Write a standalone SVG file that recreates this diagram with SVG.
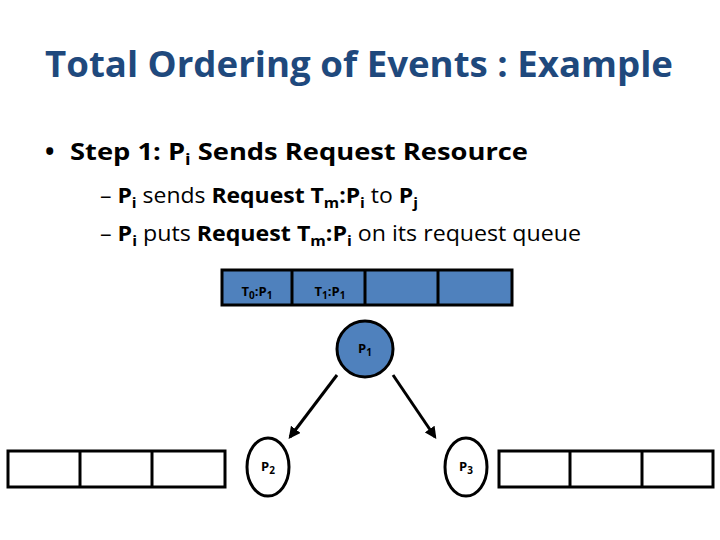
<svg xmlns="http://www.w3.org/2000/svg" width="720" height="540" viewBox="0 0 720 540">
<style>
.t{font-family:"Open Sans","Liberation Sans",sans-serif}
.q{stroke:#000;stroke-width:3}
.bq{fill:#4F81BD}
.wq{fill:#fff}
.lbl{font-family:"Open Sans","Liberation Sans",sans-serif;font-size:13px;font-weight:bold;fill:#000}
.e{stroke:#000;stroke-width:3;fill:none}
</style>
<defs><marker id="a" viewBox="0 0 10 10" refX="8" refY="5" markerWidth="4" markerHeight="4" orient="auto"><path d="M0,0L10,5L0,10z" fill="#000"/></marker></defs>
<rect width="720" height="540" fill="#fff"/>
<text class="t" x="45" y="77" font-size="36" font-weight="bold" fill="#1F497D" textLength="628" lengthAdjust="spacingAndGlyphs">Total Ordering of Events : Example</text>
<text class="t" x="45" y="160" font-size="25" font-weight="bold" fill="#000">•</text>
<text class="t" x="70" y="160" font-size="24" font-weight="bold" fill="#000" textLength="458" lengthAdjust="spacingAndGlyphs">Step 1:  P<tspan font-size="16" dy="5">i</tspan><tspan dy="-5"> Sends Request Resource</tspan></text>
<text class="t" x="100" y="203" font-size="22" fill="#000" textLength="318" lengthAdjust="spacingAndGlyphs">– <tspan font-weight="bold">P<tspan font-size="15" dy="5">i</tspan></tspan><tspan dy="-5"> sends </tspan><tspan font-weight="bold">Request T<tspan font-size="15" dy="5">m</tspan><tspan dy="-5">:P</tspan><tspan font-size="15" dy="5">i</tspan></tspan><tspan dy="-5"> to </tspan><tspan font-weight="bold">P<tspan font-size="15" dy="5">j</tspan></tspan></text>
<text class="t" x="100" y="241" font-size="22" fill="#000" textLength="481" lengthAdjust="spacingAndGlyphs">– <tspan font-weight="bold">P<tspan font-size="15" dy="5">i</tspan></tspan><tspan dy="-5"> puts </tspan><tspan font-weight="bold">Request T<tspan font-size="15" dy="5">m</tspan><tspan dy="-5">:P</tspan><tspan font-size="15" dy="5">i</tspan></tspan><tspan dy="-5"> on its request queue</tspan></text>
<g id="connectors">
<line class="e" x1="337" y1="375" x2="290" y2="437" marker-end="url(#a)"/>
<line class="e" x1="393" y1="375" x2="435" y2="437" marker-end="url(#a)"/>
</g>
<g id="queue-top">
<rect class="q bq" x="222" y="270" width="290" height="35"/>
<line class="q" x1="292" y1="270" x2="292" y2="305"/>
<line class="q" x1="365" y1="270" x2="365" y2="305"/>
<line class="q" x1="438" y1="270" x2="438" y2="305"/>
<text class="lbl" x="257" y="296" text-anchor="middle">T<tspan font-size="10" dy="3">0</tspan><tspan dy="-3">:P</tspan><tspan font-size="10" dy="3">1</tspan></text>
<text class="lbl" x="330" y="296" text-anchor="middle">T<tspan font-size="10" dy="3">1</tspan><tspan dy="-3">:P</tspan><tspan font-size="10" dy="3">1</tspan></text>
</g>
<g id="p1">
<circle class="q bq" cx="365" cy="349" r="28"/>
<text class="lbl" x="365" y="353" text-anchor="middle">P<tspan font-size="10" dy="3">1</tspan></text>
</g>
<g id="p2">
<ellipse class="q wq" cx="268" cy="467" rx="21" ry="29"/>
<text class="lbl" x="268" y="471" text-anchor="middle" font-weight="normal">P<tspan font-size="10" dy="3">2</tspan></text>
</g>
<g id="p3">
<ellipse class="q wq" cx="466" cy="467" rx="21" ry="29"/>
<text class="lbl" x="466" y="471" text-anchor="middle" font-weight="normal">P<tspan font-size="10" dy="3">3</tspan></text>
</g>
<g id="queue-left">
<rect class="q wq" x="8" y="451" width="217" height="36"/>
<line class="q" x1="80" y1="451" x2="80" y2="487"/>
<line class="q" x1="152" y1="451" x2="152" y2="487"/>
</g>
<g id="queue-right">
<rect class="q wq" x="499" y="451" width="214" height="36"/>
<line class="q" x1="570" y1="451" x2="570" y2="487"/>
<line class="q" x1="642" y1="451" x2="642" y2="487"/>
</g>
</svg>
